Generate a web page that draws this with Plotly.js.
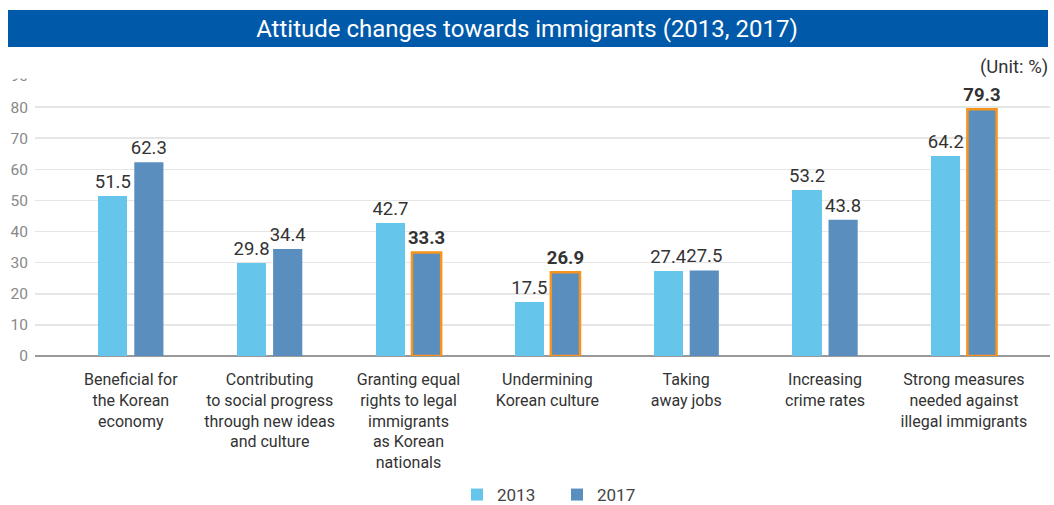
<!DOCTYPE html>
<html><head><meta charset="utf-8">
<script src="https://cdn.plot.ly/plotly-3.0.1.min.js"></script>
<style>html,body{margin:0;padding:0;background:#fff}#c{width:1054px;height:505px}</style>
</head><body><div id="c"></div>
<script>
const categories = [
  "Beneficial for<br>the Korean<br>economy",
  "Contributing<br>to social progress<br>through new ideas<br>and culture",
  "Granting equal<br>rights to legal<br>immigrants<br>as Korean<br>nationals",
  "Undermining<br>Korean culture",
  "Taking<br>away jobs",
  "Increasing<br>crime rates",
  "Strong measures<br>needed against<br>illegal immigrants"
];
const values2013 = [51.5, 29.8, 42.7, 17.5, 27.4, 53.2, 64.2];
const values2017 = [62.3, 34.4, 33.3, 26.9, 27.5, 43.8, 79.3];
const highlight2017 = [false, false, true, true, false, false, true];
const yTicks = [0,10,20,30,40,50,60,70,80,90];

const C13 = '#66c5eb', C17 = '#5a8ebf', ORANGE = '#f7941d';
const FONT = 'Roboto, "Noto Sans", sans-serif';
const idx = categories.map((_, i) => i);

const t13 = {
  type: 'bar', name: '2013', x: idx, y: values2013,
  width: 0.21, offset: -0.235,
  marker: {color: C13, line: {width: 0}},
  text: values2013.map(v => v.toFixed(1)), textposition: 'outside', constraintext: 'none',
  textfont: {size: 18.5, color: '#333', family: FONT},
  cliponaxis: false, hoverinfo: 'skip'
};
const t17 = {
  type: 'bar', name: '2017', x: idx, y: values2017,
  width: 0.21, offset: 0.025,
  marker: {color: C17,
    line: {color: highlight2017.map(h => h ? ORANGE : C17), width: highlight2017.map(h => h ? 2.5 : 0)}},
  text: values2017.map((v, i) => highlight2017[i] ? '<b>' + v.toFixed(1) + '</b>' : v.toFixed(1)),
  textposition: 'outside', constraintext: 'none',
  textfont: {size: 18.5, color: '#333', family: FONT},
  cliponaxis: false, hoverinfo: 'skip'
};

const H = 280, T = 76;
const py = p => (356 - p) / H;
const px = p => (p - 35) / 1015;

const layout = {
  width: 1054, height: 505,
  margin: {l: 35, r: 4, t: T, b: 505 - 356, pad: 0, autoexpand: false},
  paper_bgcolor: '#fff', plot_bgcolor: '#fff',
  font: {family: FONT, color: '#333'},
  showlegend: true,
  title: {text: 'Attitude changes towards immigrants (2013, 2017)',
    font: {size: 24, color: '#fff', family: FONT},
    x: 0.5, xanchor: 'center', y: 1 - 29/505, yanchor: 'middle', yref: 'container'},
  xaxis: {range: [-0.69, 6.62], tickvals: idx, ticktext: categories,
    showgrid: false, zeroline: false, showline: false, ticks: '', ticklabelstandoff: 12,
    tickfont: {size: 16, color: '#333', family: FONT}, fixedrange: true, automargin: false},
  yaxis: {range: [0, 90], tickvals: yTicks, showgrid: true, gridcolor: '#e6e6e6', gridwidth: 1.5,
    zeroline: true, zerolinecolor: '#999', zerolinewidth: 1.5,
    tickfont: {size: 15.5, color: '#888', family: FONT}, ticks: '', ticklabelstandoff: 6,
    fixedrange: true, automargin: false},
  legend: {orientation: 'h', xref: 'container', x: 457/1054, xanchor: 'left',
    yref: 'container', y: 1 - 495/505, yanchor: 'middle',
    font: {size: 17, color: '#444', family: FONT}, itemwidth: 30, entrywidth: 55, entrywidthmode: 'pixels',
    traceorder: 'normal'},
  shapes: [
    {type: 'rect', xref: 'paper', yref: 'paper', x0: px(8), x1: px(1048), y0: py(47), y1: py(10),
      fillcolor: '#0059a9', line: {width: 0}, layer: 'above'},
    {type: 'rect', xref: 'paper', yref: 'paper', x0: px(0), x1: px(1054), y0: py(78.5), y1: py(48),
      fillcolor: '#fff', line: {width: 0}, layer: 'above'}
  ],
  annotations: [
    {text: '(Unit: %)', xref: 'paper', yref: 'paper', x: px(1050), xanchor: 'right', y: py(67), yanchor: 'middle',
      showarrow: false, font: {size: 18.5, color: '#333', family: FONT}}
  ],
  bargap: 0
};
Plotly.newPlot('c', [t13, t17], layout, {displayModeBar: false, staticPlot: true});
</script></body></html>
